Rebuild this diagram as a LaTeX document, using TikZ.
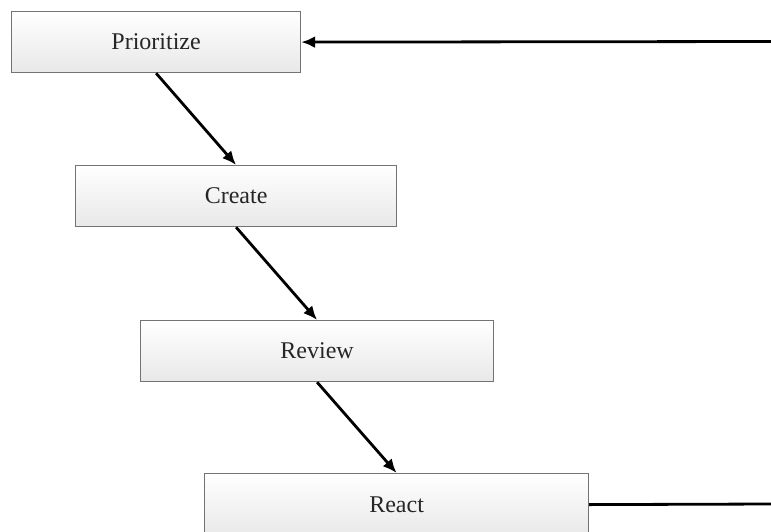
\documentclass[tikz,border=0pt]{standalone}
\usepackage{fontspec}
\setmainfont{Liberation Serif}
\usetikzlibrary{arrows.meta}
\begin{document}
\begin{tikzpicture}[x=1pt,y=-1pt,
  stepbox/.style={draw=black!55,line width=1.2pt,top color=white,bottom color=black!9,
    anchor=north west,inner sep=0pt,font=\fontsize{24}{28}\selectfont,text=black!85},
  arr/.style={line width=2.8pt,-{Latex[length=14pt,width=12pt]}},
  ln/.style={line width=2.8pt}]
\useasboundingbox (0,0) rectangle (771,531);
\fill[white] (0,0) rectangle (771,531);
\node[stepbox,minimum width=289pt,minimum height=61pt] (p) at (11,11) {Prioritize};
\node[stepbox,minimum width=321pt,minimum height=61pt] (c) at (75,165) {Create};
\node[stepbox,minimum width=353pt,minimum height=61pt] (r) at (140,320) {Review};
\node[stepbox,minimum width=384pt,minimum height=62pt] (a) at (204,473) {React};
\coordinate (tr) at (771,41.5);
\coordinate (br) at (771,504);
\draw[arr] (p.south) -- (c.north);
\draw[arr] (c.south) -- (r.north);
\draw[arr] (r.south) -- (a.north);
\draw[arr] (tr) -- (p.east);
\draw[ln] (a.east) -- (br);
\end{tikzpicture}
\end{document}
